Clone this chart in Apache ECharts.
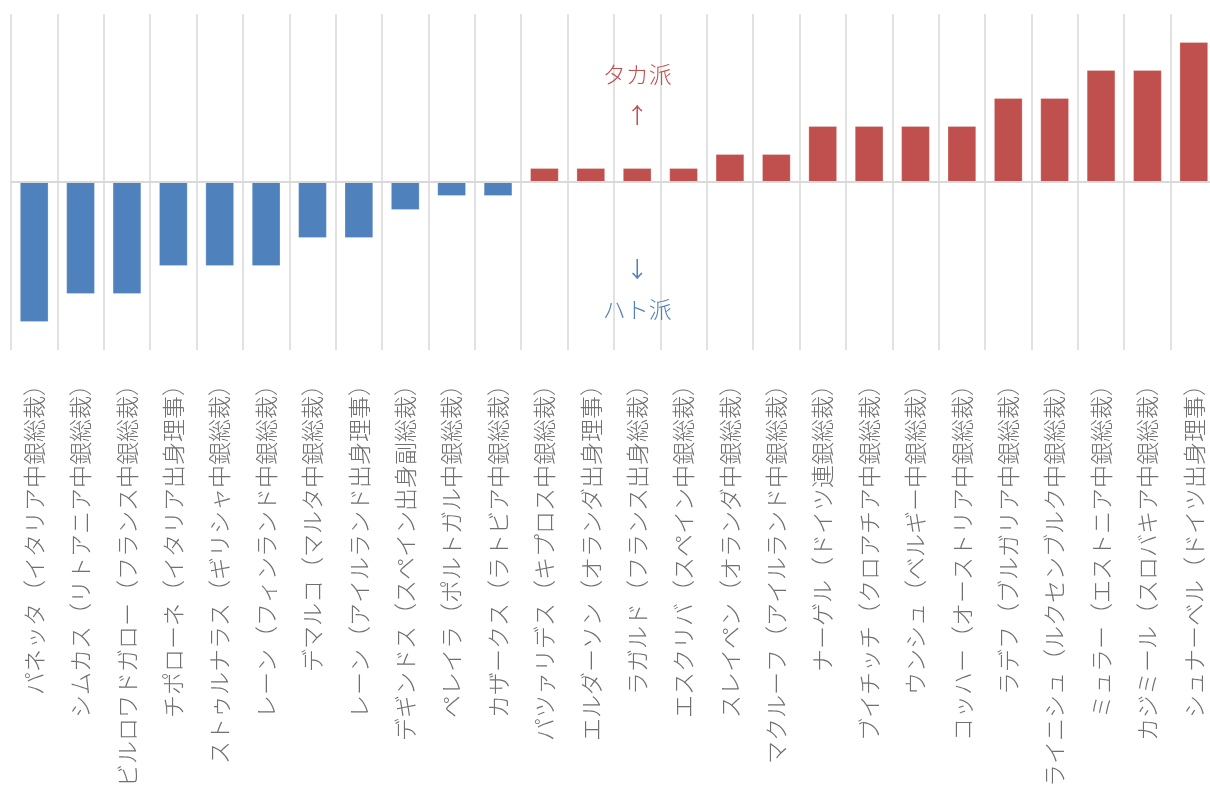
<!DOCTYPE html>
<html>
<head>
<meta charset="utf-8">
<script src="https://cdn.jsdelivr.net/npm/echarts@6/dist/echarts.min.js"></script>
<style>
html,body{margin:0;padding:0;background:#fff;overflow:hidden;}
#chart{width:1224px;height:785px;}
</style>
</head>
<body>
<div id="chart"></div>
<script>
const categories = [
  'パネッタ（イタリア中銀総裁）',
  'シムカス（リトアニア中銀総裁）',
  'ビルロワドガロー（フランス中銀総裁）',
  'チポローネ（イタリア出身理事）',
  'ストゥルナラス（ギリシャ中銀総裁）',
  'レーン（フィンランド中銀総裁）',
  'デマルコ（マルタ中銀総裁）',
  'レーン（アイルランド出身理事）',
  'デギンドス（スペイン出身副総裁）',
  'ペレイラ（ポルトガル中銀総裁）',
  'カザークス（ラトビア中銀総裁）',
  'パツァリデス（キプロス中銀総裁）',
  'エルダーソン（オランダ出身理事）',
  'ラガルド（フランス出身総裁）',
  'エスクリバ（スペイン中銀総裁）',
  'スレイペン（オランダ中銀総裁）',
  'マクルーフ（アイルランド中銀総裁）',
  'ナーゲル（ドイツ連銀総裁）',
  'ブイチッチ（クロアチア中銀総裁）',
  'ウンシュ（ベルギー中銀総裁）',
  'コッハー（オーストリア中銀総裁）',
  'ラデフ（ブルガリア中銀総裁）',
  'ライニシュ（ルクセンブルク中銀総裁）',
  'ミュラー（エストニア中銀総裁）',
  'カジミール（スロバキア中銀総裁）',
  'シュナーベル（ドイツ出身理事）'
];
const scores = [-5, -4, -4, -3, -3, -3, -2, -2, -1, -0.5, -0.5,
  0.5, 0.5, 0.5, 0.5, 1, 1, 2, 2, 2, 2, 3, 3, 4, 4, 5];
const hawkLabel = 'タカ派';
const doveLabel = 'ハト派';

const FONT = '"Noto Sans CJK JP", "Noto Sans", sans-serif';
const chart = echarts.init(document.getElementById('chart'));
chart.setOption({
  animation: false,
  grid: { left: 11, top: 14, width: 1206, height: 336, containLabel: false, outerBoundsMode: 'none' },
  xAxis: {
    type: 'category',
    data: categories,
    axisLine: { show: false, onZero: false },
    axisTick: { show: false },
    splitLine: { show: true, interval: 0, lineStyle: { color: '#d9d9d9', width: 1.5 } },
    axisLabel: {
      interval: 0,
      rotate: 90,
      margin: 23,
      fontSize: 23,
      fontWeight: 300,
      color: '#707070',
      fontFamily: FONT
    }
  },
  yAxis: {
    type: 'value',
    min: -6,
    max: 6,
    interval: 6,
    show: false,
    splitLine: { show: false }
  },
  series: [{
    type: 'bar',
    data: scores,
    barWidth: '62%',
    itemStyle: {
      color: function (p) { return p.value < 0 ? '#4F81BD' : '#C0504D'; },
      borderColor: 'rgba(255,255,255,0.25)',
      borderWidth: 1
    },
    markLine: {
      silent: true,
      symbol: 'none',
      label: { show: false },
      lineStyle: { color: '#d9d9d9', width: 2, type: 'solid' },
      data: [{ yAxis: 0 }]
    },
    markPoint: {
      silent: true,
      symbol: 'circle',
      symbolSize: 0,
      data: [
        { coord: [13, 3.86], label: { show: true, formatter: hawkLabel, color: '#C0504D', fontSize: 23, fontWeight: 300, fontFamily: FONT } },
        { coord: [13, 2.4], label: { show: true, formatter: '↑', color: '#C0504D', fontSize: 22, fontFamily: FONT } },
        { coord: [13, -3.1], label: { show: true, formatter: '↓', color: '#4F81BD', fontSize: 22, fontFamily: FONT } },
        { coord: [13, -4.55], label: { show: true, formatter: doveLabel, color: '#4F81BD', fontSize: 23, fontWeight: 300, fontFamily: FONT } }
      ]
    }
  }]
});
</script>
</body>
</html>
